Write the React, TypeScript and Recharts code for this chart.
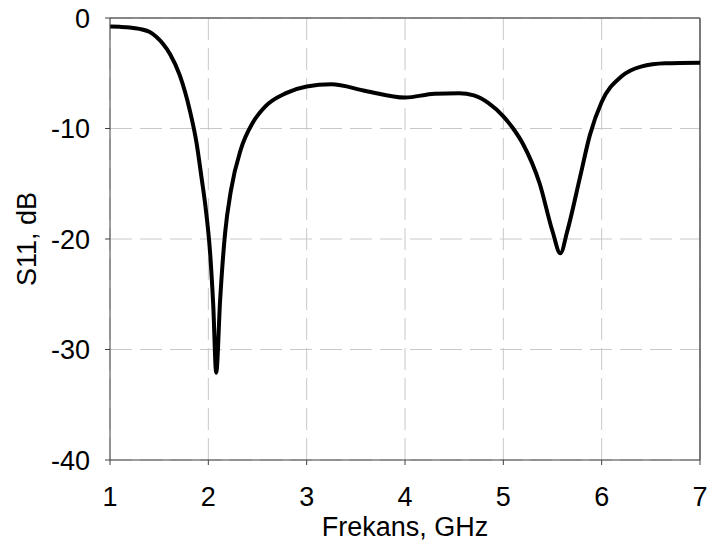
import { LineChart, Line, XAxis, YAxis, CartesianGrid, ReferenceLine } from 'recharts';

// frekans (GHz) ve S11 (dB) değerleri
const freqGHz = [
  1.0, 1.1, 1.2, 1.3, 1.4, 1.47, 1.54, 1.61, 1.71, 1.81, 1.88, 1.93, 1.97, 2.02, 2.05, 2.08, 2.12, 2.17, 2.23, 2.33,
  2.45, 2.58, 2.79, 3.0, 3.25, 3.6, 4.0, 4.3, 4.55, 4.7, 4.85, 5.0, 5.1, 5.2, 5.37, 5.5, 5.58, 5.65, 5.78, 5.88,
  6.0, 6.2, 6.4, 6.65, 7.0,
];
const s11dB = [
  -0.78, -0.8, -0.85, -0.98, -1.25, -1.7, -2.35, -3.25, -5.2, -8.3, -11.3, -14.4, -17, -21.5, -26, -32.1, -25.5, -19.5, -15.6, -11.9,
  -9.5, -8.0, -6.8, -6.2, -6.0, -6.6, -7.2, -6.85, -6.8, -7.0, -7.7, -8.9, -10.0, -11.4, -15, -19.3, -21.3, -19.3, -14.4, -10.6,
  -7.6, -5.3, -4.4, -4.1, -4.05,
];
const xTicks = [1, 2, 3, 4, 5, 6, 7];
const yTicks = [-40, -30, -20, -10, 0];

const data = freqGHz.map((f, i) => ({ f, s11: s11dB[i] }));

const font = { fontFamily: '"Liberation Sans", Arial, sans-serif', fontSize: 27, fill: '#000' };

export default function App() {
  return (
    <div style={{ position: 'absolute', left: 0, top: 0, background: '#fff' }}>
      <LineChart width={710} height={545} data={data} margin={{ top: 18, right: 10, left: 0, bottom: 0 }}>
        <CartesianGrid stroke="#c8c8c8" strokeDasharray="22 8" />
        <XAxis
          dataKey="f"
          type="number"
          domain={[1, 7]}
          ticks={xTicks}
          height={85}
          stroke="#404040"
          tickSize={5}
          tickMargin={22}
          tick={font}
          label={{ value: 'Frekans, GHz', position: 'insideBottom', offset: 9, style: font }}
        />
        <YAxis
          type="number"
          domain={[-40, 0]}
          ticks={yTicks}
          width={110}
          stroke="#404040"
          tickSize={5}
          tickMargin={15}
          tick={font}
          label={{ value: 'S11, dB', angle: -90, position: 'insideLeft', offset: 26, style: { ...font, textAnchor: 'middle' } }}
        />
        <ReferenceLine y={0} stroke="#666" strokeWidth={1.7} />
        <ReferenceLine x={7} stroke="#666" strokeWidth={1.7} />
        <Line
          type="monotone"
          dataKey="s11"
          stroke="#000"
          strokeWidth={4}
          dot={false}
          activeDot={false}
          isAnimationActive={false}
        />
      </LineChart>
    </div>
  );
}
